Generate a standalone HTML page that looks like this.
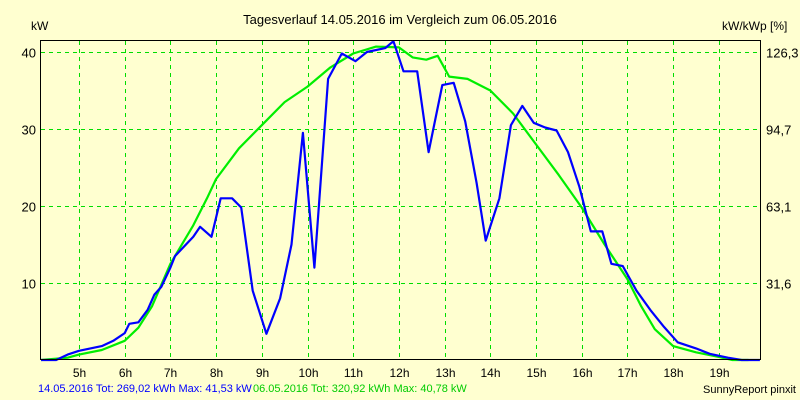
<!DOCTYPE html>
<html><head><meta charset="utf-8"><style>
body{margin:0;background:#ffffd0;}
svg{display:block;font-family:"Liberation Sans",sans-serif;}
</style></head><body>
<svg id="chart" width="800" height="400">
<rect width="800" height="400" fill="#ffffd0"/>
<text x="400" y="24" text-anchor="middle" font-size="13">Tagesverlauf 14.05.2016 im Vergleich zum 06.05.2016</text>
<text x="31" y="30" font-size="12">kW</text>
<text x="722" y="30" font-size="12">kW/kWp [%]</text>
<g id="grid"></g>
<g id="series"></g>
<rect x="40.5" y="40.5" width="720" height="319" fill="none" stroke="#000" stroke-width="1"/>
<g id="axes"></g>
<text x="38" y="392" font-size="11" fill="#0000ff">14.05.2016 Tot: 269,02 kWh Max: 41,53 kW</text>
<text x="253" y="392" font-size="11" fill="#00cc00">06.05.2016 Tot: 320,92 kWh Max: 40,78 kW</text>
<text x="796" y="393" font-size="11" text-anchor="end">SunnyReport pinxit</text>
</svg>
<script>
const hourTicks=[5,6,7,8,9,10,11,12,13,14,15,16,17,18,19];
const yTicks=[10,20,30,40];
const rightTickLabels=["31,6","63,1","94,7","126,3"];
const blueTimes=[4.17,4.5,4.75,5,5.5,5.75,6,6.1,6.3,6.5,6.65,6.8,7,7.1,7.5,7.65,7.9,8.1,8.35,8.55,8.8,9.1,9.4,9.65,9.9,10.15,10.45,10.75,11.05,11.3,11.7,11.88,12.1,12.4,12.65,12.95,13.2,13.45,13.7,13.9,14.2,14.45,14.7,14.95,15.2,15.45,15.7,15.95,16.2,16.45,16.65,16.9,17.2,17.5,17.8,18.1,18.5,18.8,19.2,19.5,19.9];
const blueValues=[0,0,0.7,1.2,1.8,2.5,3.5,4.7,4.9,6.5,8.5,9.5,12,13.5,16,17.3,16,21,21,19.8,9,3.4,8,15,29.5,12,36.5,39.8,38.8,40,40.5,41.4,37.5,37.5,27,35.7,36,31,23,15.5,21,30.5,33,30.8,30.2,29.8,27,22.5,16.7,16.7,12.5,12.2,9,6.5,4.3,2.3,1.5,0.8,0.3,0,0];
const greenTimes=[4.17,4.75,5,5.5,6,6.3,6.6,7,7.5,7.8,8,8.5,9,9.5,10,10.5,11,11.5,12,12.3,12.6,12.85,13.1,13.5,14,14.5,15,15.5,16,16.5,17,17.3,17.6,18,18.5,19,19.3,19.65];
const greenValues=[0,0.3,0.7,1.3,2.5,4.2,7,12.5,17.5,21,23.5,27.5,30.5,33.5,35.5,38,39.8,40.7,40.6,39.3,39,39.5,36.8,36.5,35,32,28,24,19.8,15,10.5,7,4,1.8,1,0.4,0,0];
const NS="http://www.w3.org/2000/svg";
const xs=t=>79+(t-5)*45.7;
const ys=v=>360-v*7.7;
function mk(tag,attrs,parent,text){const e=document.createElementNS(NS,tag);for(const k in attrs)e.setAttribute(k,attrs[k]);if(text!==undefined)e.textContent=text;parent.appendChild(e);return e;}
const grid=document.getElementById('grid'),axes=document.getElementById('axes'),series=document.getElementById('series');
hourTicks.forEach(h=>{
 const x=Math.round(xs(h))+0.5;
 const l=mk('line',{x1:x,x2:x,y1:41,y2:359,stroke:'#00dd00','stroke-dasharray':'4,4'},grid);
 
 
 const t=mk('text',{x:x,y:377,'text-anchor':'middle','font-size':'12'},axes,h+'h');
 
 
});
yTicks.forEach((v,i)=>{
 const y=Math.round(ys(v))+0.5;
 const l=mk('line',{x1:41,x2:760,y1:y,y2:y,stroke:'#00dd00','stroke-dasharray':'4,4'},grid);
 
 
 const t=mk('text',{x:36,y:y+5,'text-anchor':'end','font-size':'13'},axes,String(v));
 
 
 const r=mk('text',{x:766,y:y+5,'font-size':'13'},axes,rightTickLabels[i]);
 
 
});
function line(ts,vs,color,name){
 const pts=ts.map((t,i)=>xs(t).toFixed(1)+','+ys(vs[i]).toFixed(1)).join(' ');
 const p=mk('polyline',{points:pts,fill:'none',stroke:color,'stroke-width':'2.2','stroke-linejoin':'round'},series);
 
 
}
line(greenTimes,greenValues,'#00ee00','series-06-05-line');
line(blueTimes,blueValues,'#0000ff','series-14-05-line');
</script>
</body></html>
